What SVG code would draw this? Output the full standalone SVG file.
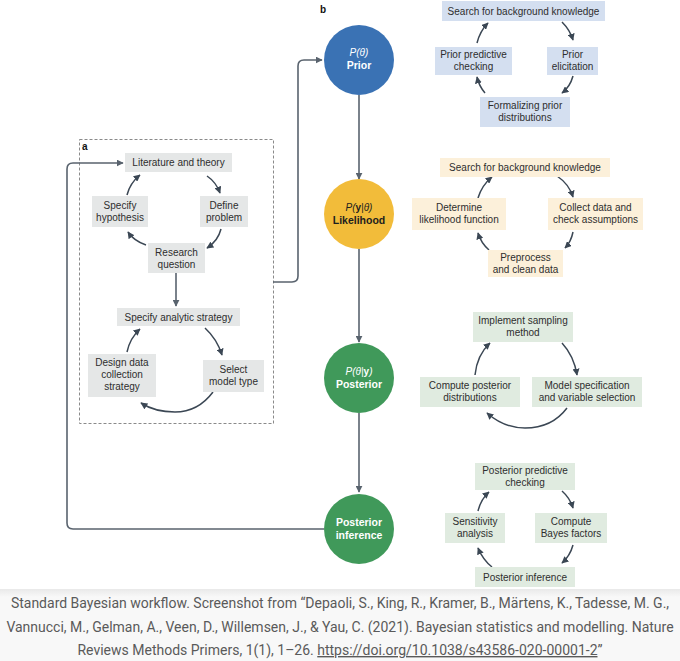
<svg xmlns="http://www.w3.org/2000/svg" width="680" height="661" viewBox="0 0 680 661">
<defs>
<marker id="ah" viewBox="0 0 10 10" refX="9" refY="5" markerWidth="7" markerHeight="7" markerUnits="userSpaceOnUse" orient="auto">
<path d="M0 0 L10 5 L0 10 Z" fill="#3b4754"/>
</marker>
<marker id="ahc" viewBox="0 0 10 10" refX="9" refY="5" markerWidth="7" markerHeight="7" markerUnits="userSpaceOnUse" orient="auto">
<path d="M0 0 L10 5 L0 10 Z" fill="#59636e"/>
</marker>
<linearGradient id="shade" x1="0" y1="0" x2="0" y2="1">
<stop offset="0" stop-color="#e9e9e9"/>
<stop offset="1" stop-color="#f8f8f8"/>
</linearGradient>
</defs>
<style>
.t{font-family:"Liberation Sans",Arial,sans-serif;font-size:10px;fill:#2e2e2e;text-anchor:middle}
.ga{fill:#e5e7e7}
.gb{fill:#d4dff0}
.gy{fill:#fcf0da}
.gg{fill:#e0ebe0}
.cyc{fill:none;stroke:#3b4754;stroke-width:1.5;marker-end:url(#ah)}
.con{fill:none;stroke:#59636e;stroke-width:1.6}
.ct{font-family:"Liberation Sans",Arial,sans-serif;text-anchor:middle;fill:#fff}
.cap{font-family:Roboto,"Liberation Sans",sans-serif;font-size:14px;fill:#5a5a5a;text-anchor:middle}
</style>
<rect width="680" height="661" fill="#ffffff"/>

<!-- panel labels -->
<text x="82" y="150" font-family="Liberation Sans,Arial,sans-serif" font-size="10" font-weight="bold" fill="#111">a</text>
<text x="320" y="13" font-family="Liberation Sans,Arial,sans-serif" font-size="10" font-weight="bold" fill="#111">b</text>
<rect x="79.5" y="139.5" width="194" height="284" fill="none" stroke="#8a8a8a" stroke-width="1" stroke-dasharray="3,2"/>

<g id="connectors">
<path class="con" d="M273 282 H292 Q298 282 298 276 V66 Q298 60 304 60 H322" marker-end="url(#ahc)"/>
<path class="con" d="M324 529 H73 Q67 529 67 523 V169 Q67 163 73 163 H123" marker-end="url(#ahc)"/>
<path class="con" d="M359 95 V179" marker-end="url(#ahc)"/>
<path class="con" d="M359 249 V342" marker-end="url(#ahc)"/>
<path class="con" d="M359 413 V492" marker-end="url(#ahc)"/>
<path class="con" d="M176 273 V306" marker-end="url(#ahc)"/>
<!-- panel a cycle 1 -->
<path class="cyc" d="M127 195 Q130 183 140 175"/>
<path class="cyc" d="M207 176 Q216 182 220 193"/>
<path class="cyc" d="M221 229 Q218 241 207 248"/>
<path class="cyc" d="M146 245 Q134 241 128 232"/>
<!-- panel a cycle 2 -->
<path class="cyc" d="M205 328 Q217 339 222 355"/>
<path class="cyc" d="M213 392 Q198 412 175 412 Q155 412 141 403"/>
<path class="cyc" d="M127 352 Q130 338 140 329"/>
<!-- prior cycle -->
<path class="cyc" d="M562 22 Q570 30 573 40"/>
<path class="cyc" d="M573 76 Q570 87 562 93"/>
<path class="cyc" d="M485 93 Q479 86 477 77"/>
<path class="cyc" d="M477 43 Q480 31 488 23"/>
<!-- likelihood cycle -->
<path class="cyc" d="M557 176 Q569 184 573 197"/>
<path class="cyc" d="M573 232 Q571 242 565 248"/>
<path class="cyc" d="M489 250 Q481 243 478 233"/>
<path class="cyc" d="M478 198 Q482 185 492 177"/>
<!-- posterior cycle -->
<path class="cyc" d="M562 343 Q574 356 577 375"/>
<path class="cyc" d="M567 408 Q552 428 525 428 Q504 428 487 413"/>
<path class="cyc" d="M475 375 Q477 355 490 343"/>
<!-- posterior inference cycle -->
<path class="cyc" d="M562 491 Q570 498 573 508"/>
<path class="cyc" d="M573 545 Q570 556 562 563"/>
<path class="cyc" d="M492 567 Q483 560 478 548"/>
<path class="cyc" d="M478 511 Q481 499 489 492"/>
</g>

<!-- panel a nodes -->
<g id="lit"><rect class="ga" x="125" y="153" width="107" height="19"/><text class="t" x="178.5" y="166">Literature and theory</text></g>
<g id="hyp"><rect class="ga" x="92" y="196" width="56" height="31"/><text class="t" x="120" y="209">Specify</text><text class="t" x="120" y="221">hypothesis</text></g>
<g id="def"><rect class="ga" x="200" y="196" width="48" height="31"/><text class="t" x="224" y="209">Define</text><text class="t" x="224" y="221">problem</text></g>
<g id="rq"><rect class="ga" x="148" y="243" width="57" height="30"/><text class="t" x="176.5" y="256">Research</text><text class="t" x="176.5" y="268">question</text></g>
<g id="sas"><rect class="ga" x="117" y="308" width="123" height="18"/><text class="t" x="178.5" y="320.5">Specify analytic strategy</text></g>
<g id="ddc"><rect class="ga" x="88" y="354" width="68" height="43"/><text class="t" x="122" y="366">Design data</text><text class="t" x="122" y="378">collection</text><text class="t" x="122" y="390">strategy</text></g>
<g id="smt"><rect class="ga" x="203" y="360" width="61" height="32"/><text class="t" x="233.5" y="373">Select</text><text class="t" x="233.5" y="385">model type</text></g>

<!-- circles -->
<g id="prior"><circle cx="359" cy="60" r="35" fill="#3a72b4"/><text class="ct" x="359" y="56" font-size="10" font-style="italic">P(θ)</text><text class="ct" x="359" y="69" font-size="10.5" font-weight="bold">Prior</text></g>
<g id="likelihood"><circle cx="359" cy="214" r="35" fill="#f2bc3a"/><text class="ct" x="359" y="211" font-size="10" font-style="italic" style="fill:#1e1e1e">P(<tspan font-weight="bold" font-style="normal">y</tspan>|θ)</text><text class="ct" x="359" y="224" font-size="10.5" font-weight="bold" style="fill:#1e1e1e">Likelihood</text></g>
<g id="posterior"><circle cx="359" cy="378" r="35" fill="#40995a"/><text class="ct" x="359" y="375" font-size="10" font-style="italic">P(θ|<tspan font-weight="bold" font-style="normal">y</tspan>)</text><text class="ct" x="359" y="388" font-size="10.5" font-weight="bold">Posterior</text></g>
<g id="pinf"><circle cx="359" cy="529" r="35" fill="#40995a"/><text class="ct" x="359" y="526" font-size="10.5" font-weight="bold">Posterior</text><text class="ct" x="359" y="539" font-size="10.5" font-weight="bold">inference</text></g>

<!-- prior cycle -->
<g id="p1"><rect class="gb" x="442" y="1" width="163" height="20"/><text class="t" x="523.5" y="14.5">Search for background knowledge</text></g>
<g id="p2"><rect class="gb" x="435" y="47" width="77" height="28"/><text class="t" x="473.5" y="58">Prior predictive</text><text class="t" x="473.5" y="70">checking</text></g>
<g id="p3"><rect class="gb" x="547" y="47" width="51" height="28"/><text class="t" x="572.5" y="58">Prior</text><text class="t" x="572.5" y="70">elicitation</text></g>
<g id="p4"><rect class="gb" x="480" y="97" width="90" height="30"/><text class="t" x="525" y="109">Formalizing prior</text><text class="t" x="525" y="121">distributions</text></g>

<!-- likelihood cycle -->
<g id="l1"><rect class="gy" x="440" y="158" width="170" height="19"/><text class="t" x="525" y="171">Search for background knowledge</text></g>
<g id="l2"><rect class="gy" x="412" y="198" width="94" height="32"/><text class="t" x="459" y="211">Determine</text><text class="t" x="459" y="223">likelihood function</text></g>
<g id="l3"><rect class="gy" x="548" y="198" width="95" height="32"/><text class="t" x="595.5" y="211">Collect data and</text><text class="t" x="595.5" y="223">check assumptions</text></g>
<g id="l4"><rect class="gy" x="488" y="250" width="75" height="27"/><text class="t" x="525.5" y="261">Preprocess</text><text class="t" x="525.5" y="273">and clean data</text></g>

<!-- posterior cycle -->
<g id="q1"><rect class="gg" x="473" y="312" width="100" height="30"/><text class="t" x="523" y="324">Implement sampling</text><text class="t" x="523" y="336">method</text></g>
<g id="q2"><rect class="gg" x="420" y="377" width="100" height="30"/><text class="t" x="470" y="389">Compute posterior</text><text class="t" x="470" y="401">distributions</text></g>
<g id="q3"><rect class="gg" x="532" y="377" width="110" height="30"/><text class="t" x="587" y="389">Model specification</text><text class="t" x="587" y="401">and variable selection</text></g>

<!-- posterior inference cycle -->
<g id="r1"><rect class="gg" x="475" y="463" width="100" height="27"/><text class="t" x="525" y="474">Posterior predictive</text><text class="t" x="525" y="486">checking</text></g>
<g id="r2"><rect class="gg" x="445" y="513" width="60" height="30"/><text class="t" x="475" y="525">Sensitivity</text><text class="t" x="475" y="537">analysis</text></g>
<g id="r3"><rect class="gg" x="535" y="513" width="72" height="30"/><text class="t" x="571" y="525">Compute</text><text class="t" x="571" y="537">Bayes factors</text></g>
<g id="r4"><rect class="gg" x="475" y="567" width="100" height="20"/><text class="t" x="525" y="581">Posterior inference</text></g>

<!-- caption band -->
<rect x="0" y="589" width="680" height="72" fill="#f8f8f8"/>
<rect x="0" y="589" width="680" height="8" fill="url(#shade)"/>
<text class="cap" x="340" y="608">Standard Bayesian workflow. Screenshot from “Depaoli, S., King, R., Kramer, B., Märtens, K., Tadesse, M. G.,</text>
<text class="cap" x="340" y="632">Vannucci, M., Gelman, A., Veen, D., Willemsen, J., &amp; Yau, C. (2021). Bayesian statistics and modelling. Nature</text>
<text class="cap" x="340" y="655">Reviews Methods Primers, 1(1), 1–26. <tspan text-decoration="underline">https://doi.org/10.1038/s43586-020-00001-2</tspan>”</text>
</svg>
